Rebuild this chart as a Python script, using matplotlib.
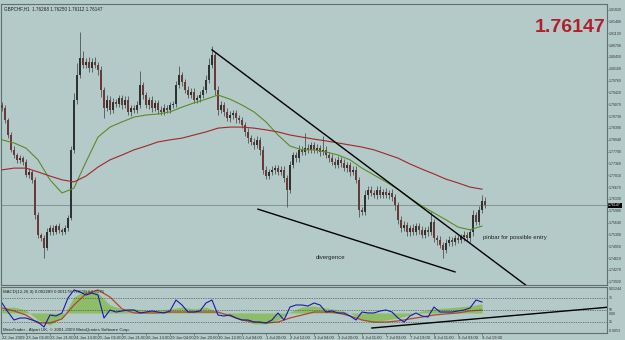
import numpy as np
import matplotlib
matplotlib.use("Agg")
import matplotlib.pyplot as plt

plt.rcParams['font.family'] = ['Liberation Sans', 'DejaVu Sans']

# ---- data (GBPCHF, H1 chart, one candle per 2 hours) ----
first_open = 1.7905
closes = [
    1.7896, 1.7862, 1.7818, 1.7775, 1.7760, 1.7746, 1.7751, 1.7740,
    1.7702, 1.7711, 1.7688, 1.7586, 1.7528, 1.7519, 1.7490, 1.7537,
    1.7548, 1.7537, 1.7554, 1.7543, 1.7537, 1.7548, 1.7577, 1.7775,
    1.7920, 1.7992, 1.8041, 1.8021, 1.8030, 1.8012, 1.8030, 1.8021,
    1.8007, 1.7949, 1.7896, 1.7920, 1.7891, 1.7914, 1.7908, 1.7925,
    1.7905, 1.7920, 1.7885, 1.7896, 1.7891, 1.7905, 1.7963, 1.7934,
    1.7905, 1.7920, 1.7896, 1.7911, 1.7891, 1.7885, 1.7896, 1.7891,
    1.7905, 1.7908, 1.7963, 1.7992, 1.7972, 1.7949, 1.7934, 1.7943,
    1.7920, 1.7925, 1.7934, 1.7949, 1.7978, 1.8021, 1.8050, 1.7949,
    1.7891, 1.7905, 1.7885, 1.7867, 1.7876, 1.7882, 1.7867, 1.7862,
    1.7847, 1.7827, 1.7809, 1.7798, 1.7789, 1.7804, 1.7775, 1.7717,
    1.7699, 1.7711, 1.7717, 1.7722, 1.7711, 1.7717, 1.7693, 1.7659,
    1.7731, 1.7760, 1.7751, 1.7775, 1.7769, 1.7780, 1.7775, 1.7789,
    1.7775, 1.7780, 1.7769, 1.7775, 1.7760, 1.7751, 1.7740, 1.7731,
    1.7746, 1.7737, 1.7722, 1.7731, 1.7711, 1.7717, 1.7688, 1.7601,
    1.7595, 1.7644, 1.7659, 1.7650, 1.7644, 1.7659, 1.7644, 1.7653,
    1.7644, 1.7650, 1.7638, 1.7615, 1.7572, 1.7548, 1.7557, 1.7537,
    1.7548, 1.7537, 1.7554, 1.7543, 1.7528, 1.7543, 1.7537, 1.7566,
    1.7519, 1.7514, 1.7499, 1.7485, 1.7505, 1.7514, 1.7508, 1.7519,
    1.7514, 1.7522, 1.7528, 1.7519, 1.7537, 1.7586, 1.7566, 1.7601,
    1.7628, 1.76147]
# wick lengths in pips above / below the body
wick_up = [
    10, 8, 6, 8, 10, 6, 8, 6,
    8, 10, 6, 8, 10, 6, 8, 12,
    8, 10, 6, 8, 6, 10, 8, 12,
    20, 35, 76, 20, 12, 15, 10, 14,
    10, 12, 8, 15, 10, 12, 8, 10,
    8, 12, 10, 8, 10, 12, 40, 10,
    10, 8, 12, 10, 8, 10, 12, 8,
    10, 8, 12, 25, 10, 8, 12, 10,
    10, 8, 12, 10, 15, 20, 25, 10,
    10, 12, 8, 10, 12, 8, 10, 8,
    8, 10, 12, 8, 10, 12, 8, 10,
    10, 8, 12, 10, 8, 12, 10, 8,
    12, 10, 8, 15, 10, 45, 12, 10,
    10, 12, 8, 40, 10, 8, 12, 10,
    10, 8, 12, 10, 8, 12, 10, 8,
    8, 15, 10, 12, 8, 10, 12, 8,
    10, 8, 12, 10, 8, 10, 12, 8,
    10, 12, 8, 10, 12, 8, 10, 30,
    8, 10, 12, 8, 10, 12, 8, 10,
    10, 8, 12, 10, 8, 15, 10, 12,
    15, 10]
wick_dn = [
    8, 10, 8, 6, 8, 10, 8, 10,
    6, 8, 10, 12, 10, 8, 30, 6,
    10, 8, 6, 10, 8, 6, 8, 6,
    10, 12, 8, 10, 8, 12, 10, 8,
    15, 20, 30, 8, 12, 10, 8, 10,
    12, 8, 10, 12, 8, 10, 8, 12,
    8, 12, 10, 8, 12, 10, 8, 10,
    8, 10, 8, 10, 12, 10, 8, 10,
    10, 8, 10, 8, 10, 8, 10, 15,
    15, 10, 12, 8, 10, 12, 15, 10,
    10, 12, 15, 10, 12, 10, 15, 12,
    8, 10, 8, 12, 10, 8, 12, 50,
    10, 8, 12, 10, 8, 10, 8, 10,
    8, 10, 12, 8, 10, 12, 8, 10,
    10, 12, 8, 10, 12, 8, 10, 20,
    10, 8, 12, 10, 8, 12, 10, 8,
    8, 12, 10, 15, 12, 10, 8, 12,
    12, 10, 8, 12, 10, 8, 12, 10,
    12, 15, 10, 24, 10, 8, 12, 10,
    8, 10, 12, 8, 10, 12, 10, 8,
    10, 8]

# moving averages, every 4th candle
ma_fast = [1.7804, 1.7795, 1.7780, 1.7746, 1.7688, 1.7650, 1.7664, 1.7740, 1.7812, 1.7841,
           1.7856, 1.7870, 1.7876, 1.7879, 1.7885, 1.7899, 1.7911, 1.7922, 1.7934, 1.7922,
           1.7905, 1.7885, 1.7856, 1.7818, 1.7786, 1.7775, 1.7775, 1.7769, 1.7760, 1.7746,
           1.7722, 1.7702, 1.7682, 1.7661, 1.7635, 1.7612, 1.7592, 1.7572, 1.7551, 1.7543,
           1.7554]
ma_slow = [1.7717, 1.7722, 1.7722, 1.7711, 1.7699, 1.7688, 1.7682, 1.7699, 1.7725, 1.7746,
           1.7760, 1.7775, 1.7786, 1.7798, 1.7804, 1.7809, 1.7818, 1.7827, 1.7838, 1.7841,
           1.7841, 1.7838, 1.7833, 1.7827, 1.7818, 1.7812, 1.7806, 1.7801, 1.7795, 1.7789,
           1.7783, 1.7775, 1.7763, 1.7751, 1.7734, 1.7719, 1.7705, 1.7690, 1.7679, 1.7667,
           1.7661]

# MACD main / signal every 4th candle, RSI every 2nd candle
macd_main = [0.0027, 0.0032, 0.0016, -0.0038, -0.0065, -0.0027, 0.0086, 0.0124, 0.0108, 0.0043,
             0.0022, 0.0022, 0.0016, 0.0016, 0.0022, 0.0032, 0.0022, 0.0032, 0.0005, -0.0016,
             -0.0038, -0.0059, -0.0059, -0.0038, 0.0005, 0.0032, 0.0038, 0.0027, 0.0016, 0.0000,
             -0.0038, -0.0049, -0.0038, -0.0027, -0.0011, 0.0011, 0.0022, 0.0027, 0.0032, 0.0038,
             0.0049]
macd_signal = [0.0027, 0.0011, -0.0011, -0.0054, -0.0054, -0.0032, 0.0043, 0.0103, 0.0124, 0.0086,
               0.0022, 0.0000, 0.0000, 0.0000, 0.0005, 0.0005, 0.0005, 0.0005, 0.0005, -0.0016,
               -0.0038, -0.0049, -0.0054, -0.0049, -0.0027, -0.0011, 0.0005, 0.0005, 0.0000, -0.0016,
               -0.0038, -0.0049, -0.0049, -0.0043, -0.0032, -0.0022, -0.0011, -0.0005, 0.0000, 0.0011,
               0.0016]
rsi = [64.6, 45.8, 29.2, 33.3, 33.3, 29.2, 25.0, 14.6, 39.6, 37.5,
       43.8, 75.0, 91.7, 87.5, 81.2, 85.4, 81.2, 33.3, 50.0, 45.8,
       47.9, 50.0, 50.0, 43.8, 45.8, 47.9, 45.8, 43.8, 47.9, 70.8,
       60.4, 45.8, 45.8, 47.9, 64.6, 70.8, 39.6, 37.5, 39.6, 33.3,
       29.2, 29.2, 25.0, 25.0, 22.9, 29.2, 43.8, 29.2, 56.2, 60.4,
       60.4, 58.3, 64.6, 60.4, 45.8, 47.9, 43.8, 43.8, 37.5, 29.2,
       45.8, 43.8, 43.8, 47.9, 50.0, 45.8, 33.3, 25.0, 37.5, 43.8,
       37.5, 35.4, 56.2, 45.8, 45.8, 45.8, 47.9, 50.0, 54.2, 70.8,
       66.7]

date_labels = ["22 Jun 2009", "23 Jun 05:00", "23 Jun 21:00", "24 Jun 13:00", "25 Jun 05:00",
               "25 Jun 21:00", "26 Jun 13:00", "29 Jun 04:00", "29 Jun 20:00", "30 Jun 12:00",
               "1 Jul 04:00", "1 Jul 20:00", "2 Jul 12:00", "3 Jul 04:00", "3 Jul 20:00",
               "6 Jul 11:00", "7 Jul 03:00", "7 Jul 19:00", "8 Jul 11:00", "9 Jul 03:00",
               "9 Jul 19:00"]
price_ticks = [1.81820, 1.81480, 1.81130, 1.80790, 1.80450, 1.80100, 1.79760, 1.79420,
               1.79070, 1.78730, 1.78390, 1.78040, 1.77700, 1.77360, 1.77010, 1.76670,
               1.76330, 1.75980, 1.75640, 1.75300, 1.74950, 1.74610, 1.74270, 1.73920]
last_price = 1.76147

# trend lines (candle index, value)
tl_down = [(70, 1.8065), (175, 1.7380)]
tl_div = [(85.3, 1.7603), (151, 1.7421)]
tl_rsi = [(123.3, 12.5), (202.7, 56.2)]

# ---- drawing ----
bg = '#b3cac8'
frame = '#5f706e'
W, H = 625, 340
RIGHT = 607
small = dict(fontsize=2.5)
fig = plt.figure(figsize=(6.25, 3.4), dpi=100, facecolor=bg)

def box(x0, y0, x1, y1):
    return [x0 / W, 1 - y1 / H, (x1 - x0) / W, (y1 - y0) / H]

xmax = (RIGHT - 2) / 3

ax = fig.add_axes(box(1, 4, RIGHT, 285))
ax.set_facecolor(bg)

c = np.array(closes)
o = np.r_[first_open, c[:-1]]
idx = np.arange(len(c))
hi = np.maximum(o, c) + np.array(wick_up) * 0.0001
lo = np.minimum(o, c) - np.array(wick_dn) * 0.0001
ax.vlines(idx, lo, hi, color='#4a5553', lw=0.6, zorder=2)
up = c >= o
body = np.maximum(np.abs(c - o), 0.00008)
ax.bar(idx[up], body[up], bottom=o[up], width=0.55, color='#2e3331', lw=0, zorder=3)
ax.bar(idx[~up], body[~up], bottom=c[~up], width=0.55, color='#6b3a38', lw=0, zorder=3)

ma_idx = np.arange(len(ma_fast)) * 4
ax.plot(ma_idx, ma_fast, color='#5d8a2a', lw=0.8, zorder=4)
ax.plot(ma_idx, ma_slow, color='#a3262b', lw=0.8, zorder=4)
ax.axhline(last_price, color='#7d8d8b', lw=0.6, zorder=1)

for (x0, y0), (x1, y1) in [tl_down, tl_div]:
    ax.plot([x0, x1], [y0, y1], color='black', lw=1.0, zorder=5)

ax.text(104.7, 1.7464, "divergence", fontsize=4.3, color='#222222', va='center')
ax.text(160.3, 1.7522, "pinbar for possible entry", fontsize=4.3, color='#222222', va='center')

ax.set_xlim(-0.33, xmax)
ax.set_ylim(1.7383, 1.8198)
ax.set_xticks([])
ax.yaxis.tick_right()
ax.set_yticks(price_ticks)
ax.set_yticklabels(["%.5f" % v for v in price_ticks], **small)
ax.tick_params(axis='y', length=1, pad=0.5, colors='#333333', width=0.4)
for s in ax.spines.values():
    s.set_color(frame)
    s.set_linewidth(0.8)
ax.text(1.002, last_price, "%.5f" % last_price, transform=ax.get_yaxis_transform(),
        color='white', va='center', ha='left', clip_on=False, zorder=10,
        bbox=dict(boxstyle='square,pad=0.12', fc='black', ec='none'), **small)

# indicator window
axi = fig.add_axes(box(1, 287, RIGHT, 333))
axm = axi.twinx()
axi.set_zorder(2)
axm.set_zorder(1)
axi.patch.set_visible(False)
axm.patch.set_visible(False)

m_idx = np.arange(len(macd_main)) * 4
axm.fill_between(m_idx, 0, macd_main, color='#8dbd68', lw=0)
axm.plot(m_idx, macd_signal, color='#b2482c', lw=0.9)
axm.set_ylim(-0.0108, 0.0140)
axm.set_yticks([])
for s in axm.spines.values():
    s.set_visible(False)

for lvl in (75, 50, 25):
    axi.axhline(lvl, color='#333333', lw=0.5, ls=(0, (1, 1.5)))
axi.plot(np.arange(len(rsi)) * 2, rsi, color='#1b1ba6', lw=0.8)
(x0, y0), (x1, y1) = tl_rsi
axi.plot([x0, x1], [y0, y1], color='black', lw=1.0)
axi.set_xlim(-0.33, xmax)
axi.set_ylim(2.1, 97.9)
axi.set_yticks([])
axi.set_xticks(np.arange(len(date_labels)) * 8)
axi.set_xticklabels(date_labels, ha='left')
axi.tick_params(axis='x', labelsize=3, length=1.5, pad=1, colors='#333333', width=0.4)
for s in axi.spines.values():
    s.set_color(frame)
    s.set_linewidth(0.8)

ytr = axi.get_yaxis_transform()
for v, t in [(94, "0.01244"), (75, "75"), (50, "50"), (41.5, "0.00"), (25, "25"), (6, "-0.0053")]:
    axi.text(1.003, v, t, transform=ytr, color='#333333', va='center', clip_on=False, **small)

axi.text(0.003, 0.93, "MACD(12,26,9) 0.002289 0.001178  RSI(9) 64.6575", transform=axi.transAxes,
         fontsize=3.2, color='#222222', va='top')
axi.text(0.003, 0.03, "MetaTrader - Alpari UK, \u00a9 2001-2009 MetaQuotes Software Corp.",
         transform=axi.transAxes, fontsize=3.2, color='#222222', va='bottom')

# headers
fig.text(4 / W, 1 - 9 / H, "GBPCHF,H1  1.76268 1.76250 1.76112 1.76147", fontsize=3.3,
         color='#222222', va='center')
fig.text((RIGHT - 1) / W, 1 - 28 / H, "1.76147", fontsize=14, fontweight='bold', color='#b0202a',
         ha='right', va='center')

fig.savefig("out.png", dpi=100, facecolor=bg)
